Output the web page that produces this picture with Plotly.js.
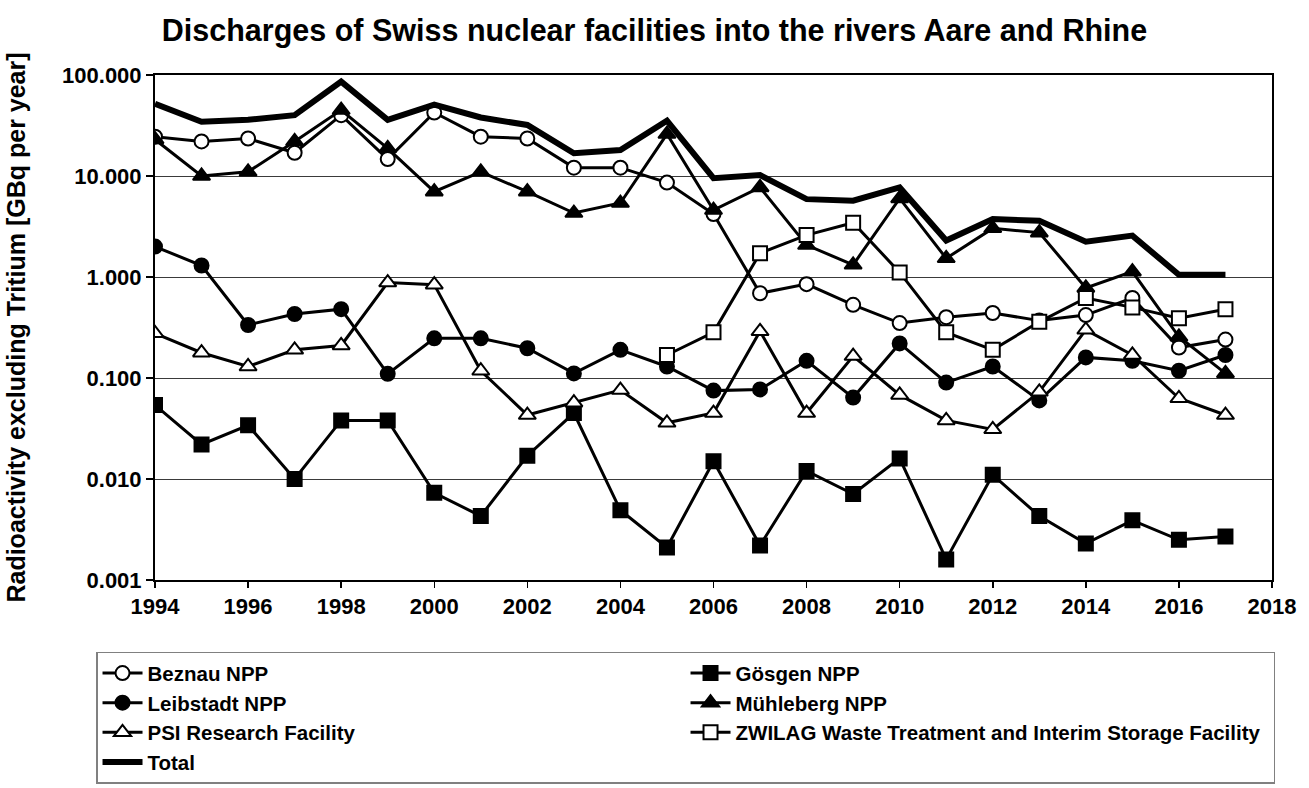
<!DOCTYPE html>
<html>
<head>
<meta charset="utf-8">
<script src="https://cdn.plot.ly/plotly-3.0.1.min.js"></script>
<style>html,body{margin:0;padding:0;background:#fff;}#chart{width:1309px;height:788px;}</style>
</head>
<body>
<div id="chart"></div>
<script>
var years = [1994,1995,1996,1997,1998,1999,2000,2001,2002,2003,2004,2005,2006,2007,2008,2009,2010,2011,2012,2013,2014,2015,2016,2017];
var zwilagYears = [2005,2006,2007,2008,2009,2010,2011,2012,2013,2014,2015,2016,2017];

var beznau    = [24.5,22,23.5,17,40,14.7,42.5,24.5,23.5,12.1,12.1,8.6,4.2,0.69,0.85,0.53,0.35,0.40,0.44,0.37,0.42,0.62,0.20,0.24];
var goesgen   = [0.054,0.022,0.034,0.010,0.038,0.038,0.0073,0.0043,0.017,0.045,0.0049,0.0021,0.015,0.0022,0.012,0.0071,0.016,0.0016,0.011,0.0043,0.0023,0.0039,0.0025,0.0027];
var leibstadt = [2.0,1.3,0.335,0.43,0.48,0.11,0.247,0.247,0.197,0.111,0.19,0.13,0.075,0.077,0.148,0.064,0.22,0.09,0.13,0.06,0.16,0.148,0.118,0.169];
var muehleberg= [23,10,11,22,45,18.8,7.0,11,7.0,4.3,5.4,26,4.6,7.7,2.07,1.32,6.0,1.53,3.03,2.75,0.78,1.13,0.256,0.111];
var psi       = [0.277,0.178,0.13,0.19,0.21,0.88,0.84,0.118,0.043,0.057,0.076,0.036,0.045,0.29,0.045,0.165,0.068,0.038,0.031,0.073,0.30,0.169,0.063,0.043];
var zwilag    = [0.169,0.283,1.72,2.6,3.45,1.11,0.283,0.19,0.36,0.62,0.50,0.39,0.48];
var total     = [52,34.5,36,40,86,36,51,38,32,16.8,18.1,35.3,9.5,10.2,5.9,5.7,7.7,2.3,3.75,3.6,2.24,2.57,1.05,1.05];

var seriesNames = ["Beznau NPP","Gösgen NPP","Leibstadt NPP","Mühleberg NPP","PSI Research Facility","ZWILAG Waste Treatment and Interim Storage Facility","Total"];
var yTickVals = [0.001,0.01,0.1,1,10,100];
var yTickText = ["0.001","0.010","0.100","1.000","10.000","100.000"];

function mk(name, x, y, symbol, fill, size){
  return {
    type:'scatter', mode:'lines+markers', name:name, x:x, y:y,
    line:{color:'#000', width:3},
    marker:{symbol:symbol, size:size, color:fill, line:{color:'#000', width:2}}
  };
}

var traces = [
  mk(seriesNames[0], years, beznau, 'circle', '#fff', 14),
  mk(seriesNames[1], years, goesgen, 'square', '#000', 14),
  mk(seriesNames[2], years, leibstadt, 'circle', '#000', 14),
  mk(seriesNames[3], years, muehleberg, 'triangle-up', '#000', 15),
  mk(seriesNames[4], years, psi, 'triangle-up', '#fff', 15),
  mk(seriesNames[5], zwilagYears, zwilag, 'square', '#fff', 14),
  {type:'scatter', mode:'lines', name:seriesNames[6], x:years, y:total, line:{color:'#000', width:6}}
];

var fontFam = 'Liberation Sans, Arial, sans-serif';
var layout = {
  width:1309, height:788,
  margin:{l:155, r:37, t:75, b:208, autoexpand:false},
  paper_bgcolor:'#fff', plot_bgcolor:'#fff',
  font:{family:fontFam, color:'#000'},
  title:{text:'<b>Discharges of Swiss nuclear facilities into the rivers Aare and Rhine</b>',
         font:{size:30.5, family:fontFam, color:'#000'},
         xref:'container', x:0.5, xanchor:'center', yref:'container', y:0.962, yanchor:'middle'},
  xaxis:{range:[1994,2018], dtick:2, tick0:1994, showgrid:false, zeroline:false,
         showline:true, linecolor:'#000', linewidth:2, mirror:true,
         ticks:'outside', ticklen:6, tickwidth:1.5, tickcolor:'#000',
         tickfont:{size:22, family:fontFam, color:'#000', weight:'bold'}},
  yaxis:{type:'log', range:[-3,2], tickvals:yTickVals, ticktext:yTickText,
         showgrid:true, gridcolor:'#3a3a3a', gridwidth:1, zeroline:false,
         showline:true, linecolor:'#000', linewidth:2, mirror:true,
         ticks:'outside', ticklen:7, tickwidth:1.5, tickcolor:'#000',
         tickfont:{size:22, family:fontFam, color:'#000', weight:'bold'},
         title:{text:'<b>Radioactivity excluding Tritium [GBq per year]</b>', font:{size:25, family:fontFam, color:'#000'}, standoff:29}},
  showlegend:true,
  legend:{orientation:'h', x:-0.0528, xanchor:'left', y:-0.142, yanchor:'top',
          bordercolor:'#808080', borderwidth:1.5, bgcolor:'#fff',
          traceorder:'normal', entrywidth:533, entrywidthmode:'pixels', itemwidth:40,
          font:{size:20.5, family:fontFam, color:'#000', weight:'bold'}}
};

Plotly.newPlot('chart', traces, layout, {displayModeBar:false, staticPlot:true});
</script>
</body>
</html>
